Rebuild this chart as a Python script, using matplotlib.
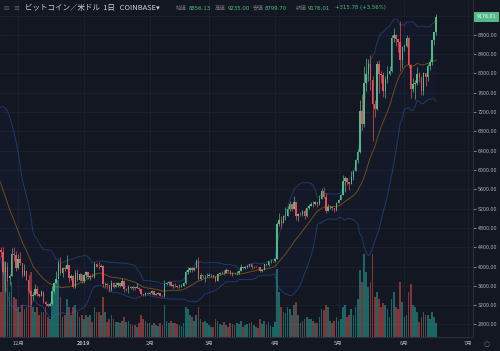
import matplotlib

matplotlib.use("Agg")

import matplotlib.dates as mdates
import matplotlib.pyplot as plt
import matplotlib.transforms as mtransforms
import numpy as np
import pandas as pd

plt.rcParams["font.family"] = ["Noto Sans CJK JP", "DejaVu Sans"]

# closes of the 20 days before the first drawn candle (needed for the bands)
warmup_close = [6380, 6370, 6480, 6410, 6450, 6530, 6410, 6340, 6370, 6380,
                6360, 6300, 5600, 5560, 5510, 5500, 5560, 4750, 4380, 4580]

start_date = "2018-11-22"
first_open = 4580.0

close = [
    # Nov
    4350, 4310, 3880, 4000, 3770, 3800, 4250, 4230, 3960,
    # Dec
    4150, 4070, 3820, 3900, 3730, 3490, 3380, 3410, 3530, 3420,
    3380, 3480, 3270, 3220, 3190, 3220, 3500, 3660, 3750, 4070,
    3860, 3960, 3950, 4040, 3760, 3800, 3570, 3860, 3720, 3840, 3690,
    # Jan
    3820, 3880, 3780, 3810, 3790, 4050, 4000, 3990, 4010, 3630,
    3630, 3610, 3510, 3660, 3580, 3620, 3650, 3600, 3690, 3530,
    3540, 3580, 3550, 3570, 3560, 3560, 3530, 3430, 3400, 3460, 3440,
    # Feb
    3460, 3500, 3410, 3440, 3450, 3390, 3380, 3640, 3650, 3680,
    3600, 3600, 3590, 3570, 3580, 3600, 3650, 3880, 3920, 3960,
    3920, 3970, 4120, 3740, 3820, 3800, 3800, 3800,
    # Mar
    3820, 3820, 3790, 3700, 3850, 3860, 3870, 3860, 3930, 3910,
    3850, 3870, 3860, 3860, 3910, 3990, 3960, 3980, 4020, 4050,
    3980, 3990, 4000, 3990, 3900, 3930, 4050, 4030, 4110, 4110, 4110,
    # Apr
    4160, 4880, 4970, 4900, 5040, 5050, 5200, 5290, 5200, 5330,
    5040, 5090, 5080, 5160, 5040, 5210, 5250, 5300, 5290, 5330,
    5290, 5400, 5560, 5450, 5160, 5230, 5230, 5210, 5180, 5320,
    # May
    5380, 5480, 5770, 5830, 5750, 5700, 5860, 5980, 6200, 6370,
    7230, 6960, 7810, 7980, 8200, 7870, 7360, 7270, 8200, 7980,
    7960, 7630, 7880, 7990, 8060, 8740, 8790, 8720, 8660, 8270, 8550,
    # Jun
    8560, 8740, 8180, 7680, 7790, 7800, 7990, 7930, 7630, 8020,
    7920, 8160, 8230, 8690, 8856.13, 9176.01,
]

high = [
    4620, 4410, 4400, 4120, 4100, 3850, 4390, 4400, 4320,
    4260, 4300, 4080, 4050, 3910, 3830, 3520, 3470, 3640, 3590,
    3440, 3520, 3490, 3280, 3240, 3260, 3600, 3680, 3900, 4140,
    4200, 3980, 4020, 4240, 4040, 3850, 3830, 3920, 3950, 3870, 3850,
    3840, 3910, 3880, 3830, 3870, 4090, 4080, 4100, 4060, 4040,
    3670, 3650, 3620, 3720, 3680, 3670, 3670, 3660, 3770, 3710,
    3560, 3620, 3600, 3590, 3580, 3660, 3570, 3530, 3440, 3480, 3480,
    3480, 3510, 3500, 3450, 3470, 3460, 3410, 3720, 3670, 3690,
    3680, 3640, 3650, 3600, 3630, 3630, 3680, 3930, 4000, 3980,
    3990, 3990, 4150, 4200, 3870, 3830, 3820, 3860,
    3870, 3840, 3830, 3800, 3870, 3890, 3900, 3920, 3960, 3930,
    3920, 3880, 3880, 3910, 3930, 4050, 3990, 4020, 4030, 4060,
    4060, 4010, 4010, 4000, 3990, 3940, 4060, 4050, 4120, 4150, 4120,
    4170, 4920, 5100, 5050, 5060, 5230, 5250, 5350, 5290, 5470,
    5340, 5100, 5120, 5180, 5190, 5230, 5290, 5330, 5350, 5360,
    5340, 5480, 5620, 5640, 5530, 5300, 5250, 5250, 5220, 5330,
    5400, 5500, 5900, 5880, 5840, 5750, 5980, 6000, 6220, 6440,
    7450, 7580, 8150, 8330, 8290, 8390, 7940, 7460, 8260, 8280,
    8050, 8030, 7950, 8150, 8150, 8800, 8950, 8820, 8720, 9080, 8580,
    8620, 8800, 8750, 8190, 7900, 7860, 8130, 8040, 7950, 8040,
    8020, 8200, 8300, 8700, 8870, 9235.00,
]

low = [
    4300, 4200, 3850, 3500, 3700, 3620, 3800, 4120, 3900,
    3950, 4030, 3780, 3800, 3710, 3450, 3230, 3300, 3400, 3390,
    3360, 3380, 3250, 3180, 3160, 3180, 3210, 3450, 3650, 3750,
    3820, 3780, 3900, 3940, 3670, 3720, 3560, 3560, 3700, 3700, 3650,
    3660, 3770, 3740, 3720, 3780, 3760, 3980, 3940, 3980, 3570,
    3580, 3550, 3470, 3500, 3550, 3580, 3580, 3570, 3600, 3480,
    3500, 3450, 3530, 3520, 3520, 3550, 3490, 3400, 3380, 3390, 3420,
    3420, 3440, 3400, 3400, 3430, 3380, 3370, 3370, 3620, 3610,
    3590, 3560, 3570, 3550, 3560, 3580, 3590, 3640, 3850, 3880,
    3890, 3910, 3960, 3720, 3720, 3770, 3680, 3780,
    3800, 3780, 3760, 3680, 3700, 3820, 3850, 3830, 3860, 3880,
    3830, 3810, 3840, 3820, 3850, 3910, 3950, 3950, 3970, 4000,
    3950, 3970, 3980, 3970, 3880, 3890, 3920, 4010, 4020, 4080, 4090,
    4090, 4150, 4840, 4800, 4900, 4960, 5040, 5150, 5150, 5190,
    4960, 4940, 5050, 5040, 4990, 5030, 5200, 5250, 5230, 5280,
    5230, 5270, 5390, 5410, 5100, 5150, 5200, 5170, 5130, 5160,
    5310, 5370, 5480, 5550, 5690, 5580, 5700, 5800, 5970, 6150,
    6350, 6820, 6900, 7640, 7850, 7650, 6600, 7100, 7240, 7590,
    7800, 7520, 7500, 7800, 7960, 8040, 8660, 8560, 8440, 8050, 8120,
    8470, 8540, 8120, 7500, 7620, 7470, 7770, 7830, 7550, 7560,
    7740, 7840, 8080, 8180, 8600, 8799.70,
]

volume = [
    60, 45, 70, 75, 65, 45, 55, 40, 38,
    30, 25, 32, 28, 30, 50, 65, 30, 25, 30,
    22, 25, 25, 30, 20, 18, 45, 50, 55, 57,
    40, 20, 22, 38, 30, 22, 30, 32, 25, 20, 22,
    18, 22, 20, 22, 15, 30, 25, 25, 22, 40,
    25, 15, 18, 22, 18, 15, 15, 14, 16, 20,
    15, 16, 13, 12, 12, 10, 14, 22, 18, 16, 14,
    14, 12, 14, 12, 11, 14, 12, 32, 16, 14,
    16, 14, 14, 13, 12, 11, 14, 30, 28, 22,
    20, 16, 22, 30, 18, 15, 16, 14,
    12, 10, 10, 18, 16, 13, 12, 15, 12, 10,
    14, 13, 12, 14, 13, 16, 10, 12, 13, 14,
    15, 12, 10, 9, 18, 13, 16, 12, 15, 11, 10,
    15, 68, 45, 30, 25, 24, 30, 28, 22, 32,
    35, 22, 14, 16, 18, 20, 18, 18, 16, 14,
    14, 20, 28, 27, 32, 30, 16, 14, 16, 20,
    16, 18, 30, 32, 20, 22, 28, 22, 30, 38,
    67, 55, 83, 65, 50, 55, 83, 40, 45, 38,
    30, 34, 32, 28, 20, 38, 45, 30, 28, 55, 35,
    20, 22, 45, 53, 32, 30, 25, 15, 20, 25,
    22, 22, 18, 25, 20, 14,
]

month_ticks = ["2018-12-01", "2019-01-01", "2019-02-01", "2019-03-01",
               "2019-04-01", "2019-05-01", "2019-06-01", "2019-07-01"]
month_labels = ["12月", "2019", "2月", "3月", "4月", "5月", "6月", "7月"]
price_ticks = [2800, 3200, 3600, 4000, 4400, 4800, 5200, 5600, 6000,
               6400, 6800, 7200, 7600, 8000, 8400, 8800, 9200]

BG = "#131722"
GRID = "#1d2130"
UP = "#53b987"
DOWN = "#eb4d5c"
TEXT = "#b2b5be"


def run():
    c = np.array(close, dtype=float)
    o = np.concatenate([[first_open], c[:-1]])  # 24h market: open = prior close
    h = np.array(high, dtype=float)
    lo = np.array(low, dtype=float)
    v = np.array(volume, dtype=float)
    dates = pd.date_range(start_date, periods=len(c), freq="D")
    x = mdates.date2num(dates)
    up = c >= o

    series = pd.Series(warmup_close + close, dtype=float)
    n0 = len(warmup_close)
    mid = series.rolling(20).mean().to_numpy()[n0:]
    sd = series.rolling(20).std(ddof=0).to_numpy()[n0:]
    upper = mid + 2 * sd
    lower = mid - 2 * sd

    fig = plt.figure(figsize=(5, 3.51), dpi=100, facecolor=BG)
    ax = fig.add_axes([0, 14 / 351, 473 / 500, 337 / 351])
    ax.set_facecolor(BG)

    # volume at the bottom, scaled to a quarter of the pane
    vtrans = mtransforms.blended_transform_factory(ax.transData, ax.transAxes)
    vscale = v.max() / 0.247
    ax.bar(x[up], v[up] / vscale, width=0.8, color="#26a69a", alpha=0.55,
           transform=vtrans, zorder=1, linewidth=0)
    ax.bar(x[~up], v[~up] / vscale, width=0.8, color="#ef5350", alpha=0.5,
           transform=vtrans, zorder=1, linewidth=0)

    # Bollinger bands (20, 2)
    ax.fill_between(x, lower, upper, color="#2962ff", alpha=0.03, zorder=2, linewidth=0)
    ax.plot(x, upper, color="#3a6fd8", alpha=0.38, lw=0.7, zorder=2)
    ax.plot(x, lower, color="#3a6fd8", alpha=0.38, lw=0.7, zorder=2)
    ax.plot(x, mid, color="#ff9800", alpha=0.4, lw=0.7, zorder=2)

    # candles
    colors = np.where(up, UP, DOWN)
    ax.vlines(x, lo, h, colors=colors, lw=0.5, zorder=3)
    body = np.maximum(np.abs(c - o), 8)
    ax.bar(x, body, bottom=np.minimum(o, c), width=0.7, color=colors,
           linewidth=0, zorder=4)

    ax.set_xlim(x[0] + 0.52, x[0] + 0.52 + 222.8)
    ax.set_ylim(2539, 9523)

    ax.set_xticks(mdates.date2num(pd.to_datetime(month_ticks)))
    ax.set_xticklabels(month_labels)
    ax.get_xticklabels()[1].set_fontweight("bold")
    ax.get_xticklabels()[1].set_color("#d1d4dc")
    ax.set_yticks(price_ticks)
    ax.set_yticklabels([f"{p:.2f}" if p < 9000 else "" for p in price_ticks])
    ax.yaxis.tick_right()
    ax.tick_params(axis="x", length=0, pad=3.2, labelsize=4, colors=TEXT)
    ax.tick_params(axis="y", length=2, width=0.5, pad=1.5, labelsize=3.4,
                   colors=TEXT, direction="out")
    for lab in ax.get_yticklabels():
        lab.set_family("DejaVu Sans")
    ax.grid(True, color=GRID, lw=0.6)
    ax.set_axisbelow(True)
    for side in ("top", "left"):
        ax.spines[side].set_visible(False)
    for side in ("right", "bottom"):
        ax.spines[side].set_color("#2a2e39")
        ax.spines[side].set_linewidth(0.8)

    # last price tag on the right scale
    ptrans = mtransforms.blended_transform_factory(ax.transAxes, ax.transData)
    ax.text(1.008, c[-1], f"{c[-1]:.2f}", transform=ptrans, fontsize=3.4,
            family="DejaVu Sans", color="white", va="center", ha="left",
            clip_on=False, zorder=6,
            bbox=dict(boxstyle="square,pad=0.55", fc=UP, ec="none"))

    # header
    def px(xp, yp):
        return xp / 500, 1 - yp / 351

    fig.text(*px(3, 8), "⊟", fontsize=4.5, color="#6a6d78", va="center",
             family=["DejaVu Sans"])
    fig.text(*px(13, 8), "≡", fontsize=5, color="#6a6d78", va="center",
             family=["DejaVu Sans"])
    fig.text(*px(25, 8), "ビットコイン／米ドル  1日   COINBASE▾", fontsize=5.4,
             color="#d1d4dc", va="center")
    pairs = [("始値", 176, "8856.13", 189), ("高値", 215, "9235.00", 228),
             ("安値", 253, "8799.70", 265), ("終値", 296, "9176.01", 308)]
    for lab, lx, val, vx in pairs:
        fig.text(*px(lx, 8), lab, fontsize=3.9, color="#787b86", va="center")
        fig.text(*px(vx, 8), val, fontsize=3.9, color=UP, va="center",
                 family=["DejaVu Sans"])
    fig.text(*px(335, 8), "+315.78 (+3.56%)", fontsize=3.9, color=UP, va="center",
             family=["DejaVu Sans"])

    fig.text(*px(487, 344), "○", fontsize=5, color="#787b86", va="center",
             ha="center", family=["DejaVu Sans"])

    fig.savefig("out.png", dpi=100, facecolor=BG)
    plt.close(fig)


if __name__ == "__main__":
    run()
